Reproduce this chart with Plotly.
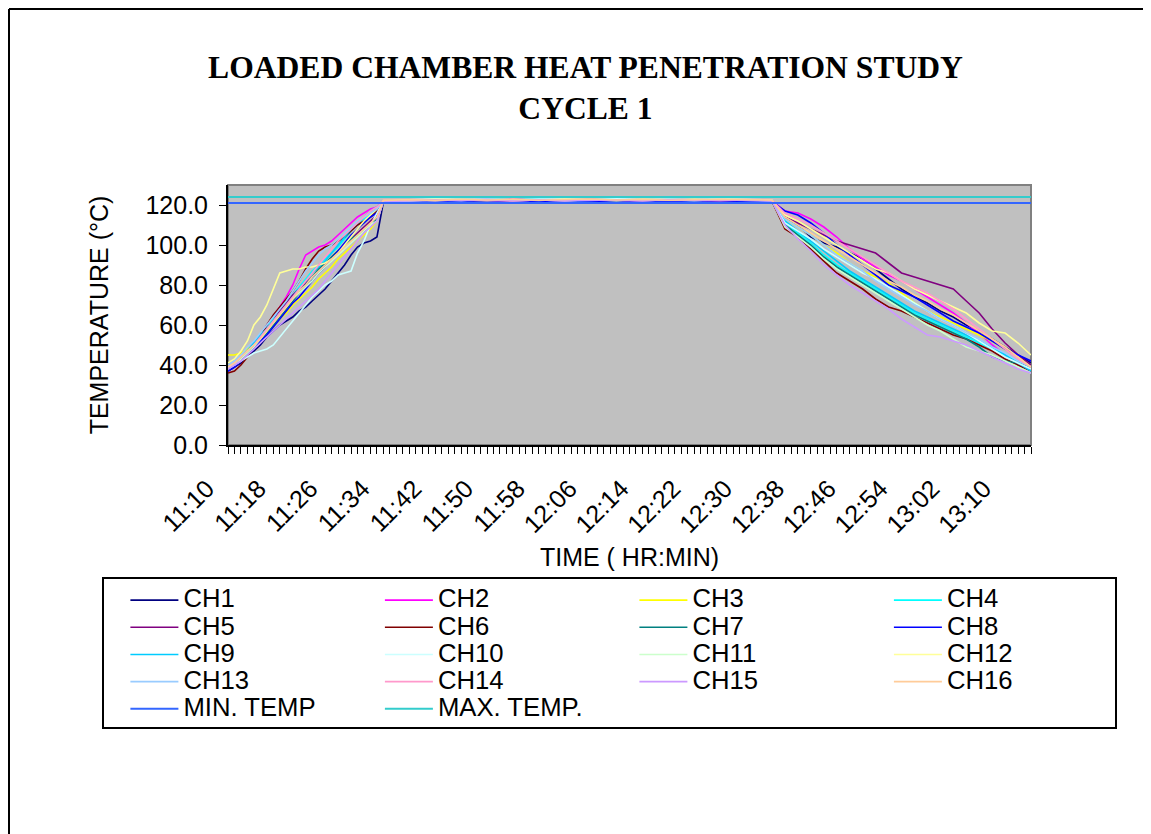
import plotly.graph_objects as go

# ---------------- data ----------------
TIMES = (["11:10", "11:11", "11:12", "11:13", "11:14", "11:15", "11:16", "11:17", "11:18",
          "11:19", "11:20", "11:21", "11:22", "11:23", "11:24", "11:25", "11:26", "11:27",
          "11:28", "11:29", "11:30", "11:31", "11:32", "11:33", "11:34"]
         + ["11:38", "11:42", "11:46", "11:50", "11:54", "11:58", "12:02", "12:06", "12:10",
            "12:14", "12:18", "12:22", "12:26", "12:30"]
         + ["12:34", "12:36", "12:38", "12:40", "12:42", "12:44", "12:46", "12:48", "12:50",
            "12:52", "12:54", "12:56", "12:58", "13:00", "13:02", "13:04", "13:06", "13:08",
            "13:10", "13:12", "13:14"])

CH1 = [37, 39, 41, 44, 47, 50, 54, 57, 60, 62, 64, 67, 69, 72, 75, 78, 82, 86, 90, 95, 99, 101, 102, 104, 121.5,
       121.7, 122.2, 121.9, 122.4, 122.0, 121.8, 122.3, 122.1, 121.9, 122.4, 122.0, 122.2, 121.8, 122.3,
       122, 114, 110, 104, 101, 99, 96, 93, 88, 83, 78, 74, 71, 67, 64, 60, 57, 53, 49, 45, 41]
CH2 = [38, 40, 43, 47, 51, 55, 60, 64, 69, 74, 80, 88, 95, 97, 99, 100, 102, 105, 108, 111, 114, 116, 118, 119, 122.3,
       122.4, 122.0, 122.6, 122.2, 122.8, 122.3, 122.5, 122.1, 122.7, 122.3, 122.5, 122.2, 122.6, 122.4,
       122.2, 117, 116, 113, 109, 104, 98, 93, 89, 85, 82, 78, 74, 70, 66, 61, 56, 50, 45, 41, 38]
CH3 = [45, 45, 46, 48, 50, 53, 56, 59, 63, 66, 70, 73, 76, 79, 83, 86, 89, 93, 96, 99, 102, 105, 108, 112, 122.0,
       122.0, 122.5, 122.2, 122.7, 122.3, 122.1, 122.6, 122.4, 122.0, 122.5, 122.3, 122.7, 122.2, 122.5,
       122.1, 113, 109, 105, 100, 96, 91, 87, 84, 81, 76, 71, 67, 64, 61, 58, 55, 52, 48, 44, 40]
CH4 = [38, 41, 44, 47, 51, 55, 59, 63, 67, 71, 75, 79, 83, 87, 90, 93, 96, 99, 103, 107, 110, 113, 115, 117, 121.8,
       122.3, 122.7, 122.4, 122.9, 122.5, 122.8, 122.3, 122.6, 122.9, 122.4, 122.7, 122.5, 122.8, 122.6,
       122.4, 111, 106, 101, 95, 90, 86, 82, 78, 74, 70, 66, 63, 60, 57, 54, 51, 48, 45, 42, 38]
CH5 = [37, 39, 42, 46, 50, 54, 58, 62, 67, 71, 75, 78, 81, 84, 87, 90, 94, 97, 100, 103, 106, 109, 112, 115, 122.0,
       121.8, 122.1, 121.6, 122.0, 121.7, 122.2, 121.9, 121.6, 122.1, 121.8, 122.0, 121.7, 122.1, 121.9,
       122.0, 114, 111, 108, 105, 102, 100, 98, 96, 91, 86, 84, 82, 80, 78, 72, 66, 58, 51, 45, 40]
CH6 = [36, 37, 40, 44, 49, 54, 60, 65, 69, 73, 77, 82, 88, 93, 97, 99, 100, 102, 104, 107, 110, 112, 114, 117, 122.1,
       121.9, 122.3, 122.0, 121.7, 122.2, 121.9, 122.4, 122.0, 121.8, 122.3, 121.9, 122.2, 122.0, 122.1,
       121.9, 108, 104, 98, 92, 86, 82, 78, 73, 69, 67, 64, 61, 58, 55, 53, 50, 47, 43, 40, 37]
CH7 = [38, 40, 43, 46, 49, 52, 56, 60, 64, 68, 72, 76, 80, 84, 88, 91, 94, 97, 100, 103, 105, 107, 110, 113, 121.6,
       122.1, 121.8, 122.4, 122.0, 122.3, 121.9, 122.2, 122.5, 122.0, 122.3, 121.8, 122.1, 122.4, 122.2,
       122.0, 110, 105, 100, 94, 89, 85, 81, 77, 73, 69, 65, 62, 59, 56, 53, 49, 44, 42, 41, 39]
CH8 = [37, 39, 42, 45, 48, 52, 55, 59, 63, 67, 71, 74, 78, 82, 86, 89, 93, 97, 101, 105, 108, 111, 114, 116, 121.7,
       121.5, 121.9, 121.6, 121.8, 121.4, 121.9, 121.6, 121.8, 121.5, 121.7, 121.9, 121.5, 121.8, 121.6,
       121.8, 117, 115, 111, 106, 100, 95, 90, 85, 80, 77, 74, 70, 66, 62, 59, 56, 52, 48, 45, 42]
CH9 = [39, 41, 44, 47, 51, 55, 58, 62, 66, 70, 74, 78, 82, 86, 89, 92, 96, 100, 104, 108, 111, 114, 117, 119, 122.2,
       122.5, 122.2, 122.8, 122.4, 122.6, 122.9, 122.3, 122.7, 122.4, 122.8, 122.5, 122.3, 122.7, 122.6,
       122.3, 112, 107, 102, 97, 92, 87, 83, 79, 75, 71, 67, 64, 61, 58, 55, 52, 49, 45, 41, 37]
CH10 = [39, 40, 42, 44, 46, 47, 48, 50, 54, 58, 62, 66, 70, 74, 77, 80, 82, 85, 86, 87, 96, 102, 110, 116, 121.9,
        122.6, 123.0, 122.7, 122.9, 122.5, 123.0, 122.8, 122.6, 123.1, 122.7, 122.9, 122.6, 123.0, 122.8,
        122.5, 111, 107, 103, 98, 94, 90, 86, 83, 79, 75, 71, 67, 63, 60, 56, 52, 48, 44, 41, 38]
CH11 = [38, 40, 43, 46, 49, 53, 57, 61, 65, 69, 73, 76, 79, 82, 86, 89, 92, 95, 98, 101, 104, 107, 110, 112, 121.8,
        122.2, 122.5, 122.9, 122.4, 122.7, 122.3, 122.8, 122.5, 122.2, 122.7, 122.4, 122.9, 122.5, 122.6,
        122.2, 109, 104, 99, 93, 88, 84, 80, 76, 72, 68, 64, 60, 57, 53, 49, 47, 45, 42, 39, 36]
CH12 = [41, 43, 47, 52, 60, 64, 70, 78, 86, 87, 88, 88, 89, 89, 90, 91, 93, 96, 100, 104, 108, 112, 115, 118, 122.4,
        122.3, 122.8, 122.5, 122.2, 122.7, 122.4, 122.9, 122.6, 122.3, 122.8, 122.5, 122.4, 122.9, 122.5,
        122.4, 115, 112, 108, 104, 100, 96, 92, 88, 86, 82, 78, 75, 72, 69, 66, 61, 57, 56, 51, 45]
CH13 = [40, 42, 45, 49, 52, 56, 60, 64, 68, 72, 77, 82, 87, 91, 95, 98, 100, 103, 106, 109, 112, 114, 116, 118, 122.0,
        122.0, 122.4, 122.1, 122.6, 122.2, 122.5, 122.0, 122.3, 122.6, 122.1, 122.4, 122.2, 122.5, 122.3,
        122.1, 113, 109, 105, 100, 95, 91, 87, 82, 78, 74, 70, 67, 63, 60, 56, 53, 49, 46, 42, 39]
CH14 = [39, 41, 44, 47, 50, 54, 58, 62, 66, 70, 74, 78, 82, 86, 90, 94, 98, 102, 105, 108, 111, 114, 117, 119, 122.2,
        122.4, 122.1, 122.6, 122.3, 122.0, 122.5, 122.2, 122.7, 122.3, 122.1, 122.6, 122.4, 122.2, 122.5,
        122.3, 116, 113, 110, 106, 102, 98, 94, 90, 86, 82, 79, 76, 72, 68, 63, 58, 53, 48, 43, 39]
CH15 = [38, 40, 42, 45, 48, 51, 54, 57, 60, 63, 66, 69, 72, 75, 78, 82, 86, 90, 94, 98, 102, 106, 109, 112, 121.7,
        122.1, 122.6, 122.3, 122.8, 122.2, 122.5, 122.1, 122.7, 122.4, 122.2, 122.6, 122.3, 122.7, 122.4,
        122.0, 110, 103, 97, 90, 85, 80, 76, 72, 68, 63, 59, 55, 54, 52, 50, 47, 44, 41, 38, 36]
CH16 = [39, 41, 44, 47, 50, 53, 57, 61, 65, 69, 73, 77, 80, 84, 87, 90, 93, 96, 99, 102, 105, 108, 111, 114, 122.3,
        122.6, 122.3, 122.9, 122.5, 122.8, 122.4, 122.7, 123.0, 122.5, 122.8, 122.4, 122.6, 122.9, 122.7,
        122.4, 114, 110, 106, 102, 98, 94, 90, 86, 82, 79, 75, 72, 68, 65, 61, 57, 53, 49, 44, 39]

CHANNELS = [CH1, CH2, CH3, CH4, CH5, CH6, CH7, CH8, CH9, CH10, CH11, CH12, CH13, CH14, CH15, CH16]
CHANNEL_NAMES = ["CH1", "CH2", "CH3", "CH4", "CH5", "CH6", "CH7", "CH8",
                 "CH9", "CH10", "CH11", "CH12", "CH13", "CH14", "CH15", "CH16"]
CHANNEL_COLORS = ["#000080", "#FF00FF", "#FFFF00", "#00FFFF", "#800080", "#800000", "#008080", "#0000FF",
                  "#00CCFF", "#CCFFFF", "#CCFFCC", "#FFFF99", "#99CCFF", "#FF99CC", "#CC99FF", "#FFCC99"]

LIMIT_TIMES = ["11:10", "13:14"]
MIN_TEMP = [121.0, 121.0]
MAX_TEMP = [124.0, 124.0]

X_TICK_LABELS = ["11:10", "11:18", "11:26", "11:34", "11:42", "11:50", "11:58", "12:06",
                 "12:14", "12:22", "12:30", "12:38", "12:46", "12:54", "13:02", "13:10"]
Y_TICKS = [0, 20, 40, 60, 80, 100, 120]


def ts(hm):
    return "2000-01-01 " + hm + ":00"


SANS = "Liberation Sans, Arial, sans-serif"
SERIF = "Liberation Serif, Times New Roman, serif"


def legend_name(s):
    return '<span style="font-size:25.7px">' + s + '</span>'


fig = go.Figure()
x_all = [ts(t) for t in TIMES]
for name, vals, col in zip(CHANNEL_NAMES, CHANNELS, CHANNEL_COLORS):
    fig.add_trace(go.Scatter(x=x_all, y=vals, mode="lines", name=legend_name(name),
                             line=dict(color=col, width=1.6)))
fig.add_trace(go.Scatter(x=[ts(t) for t in LIMIT_TIMES], y=MIN_TEMP, mode="lines",
                         name=legend_name("MIN. TEMP"), line=dict(color="#3366FF", width=2)))
fig.add_trace(go.Scatter(x=[ts(t) for t in LIMIT_TIMES], y=MAX_TEMP, mode="lines",
                         name=legend_name("MAX. TEMP."), line=dict(color="#33CCCC", width=2)))

# page has an 8px body margin: figure coords = page coords - 8
OFF = 8
W, H = 1151 - OFF, 834 - OFF
L = 228 - OFF
T = 185 - OFF
PLOT_R = 1031 - OFF
PLOT_B = 445 - OFF
R = W - PLOT_R
B = H - PLOT_B
PW, PH = W - L - R, H - T - B


def px(xpage):
    return (xpage - OFF - L) / PW


def py(ypage):
    return (PLOT_B - (ypage - OFF)) / PH


fig.update_layout(
    width=W, height=H,
    margin=dict(l=L, r=R, t=T, b=B, autoexpand=False),
    paper_bgcolor="white",
    plot_bgcolor="#C0C0C0",
    font=dict(family=SANS, size=25, color="black"),
    title=dict(text="LOADED CHAMBER HEAT PENETRATION STUDY<br>CYCLE 1",
               font=dict(family=SERIF, size=31.6, color="black", weight="bold"),
               x=(585.5 - OFF) / W, xanchor="center", xref="container",
               y=1 - 70 / H, yanchor="top", yref="container"),
    showlegend=True,
    legend=dict(orientation="h", x=px(125.4), xanchor="left", y=py(581.5), yanchor="top",
                bgcolor="rgba(0,0,0,0)", borderwidth=0,
                font=dict(family=SANS, size=18.6, color="black"),
                itemwidth=48, entrywidth=191.5, entrywidthmode="pixels",
                traceorder="normal"),
    xaxis=dict(type="date", range=[ts("11:10"), ts("13:14")],
               tickmode="array", tickvals=[ts(t) for t in X_TICK_LABELS], ticktext=X_TICK_LABELS,
               tickangle=-45, ticks="outside", ticklen=7, tickwidth=1, tickcolor="black",
               ticklabelstandoff=10, ticklabelshift=-21,
               minor=dict(dtick=60000, tick0=ts("11:10"), ticks="outside", ticklen=7,
                          tickwidth=1, tickcolor="black", showgrid=False),
               showgrid=False, zeroline=False, showline=True, linecolor="black", linewidth=2,
               tickfont=dict(size=25),
               title=dict(text="TIME ( HR:MIN)", font=dict(size=25), standoff=11),
               automargin=False),
    yaxis=dict(range=[0, 130], tickmode="array", tickvals=Y_TICKS, tickformat=".1f",
               ticks="outside", ticklen=7, tickwidth=1, tickcolor="black",
               ticklabelstandoff=6,
               showgrid=False, zeroline=False, showline=True, linecolor="black", linewidth=2,
               tickfont=dict(size=25),
               title=dict(text="TEMPERATURE (°C)", font=dict(size=25), standoff=30),
               automargin=False),
    shapes=[
        # plot-area border (gray)
        dict(type="rect", xref="paper", yref="paper", x0=0, x1=1, y0=0, y1=1,
             line=dict(color="#808080", width=2), layer="below"),
        # legend box
        dict(type="rect", xref="paper", yref="paper", x0=px(103), x1=px(1116),
             y0=py(728), y1=py(578), line=dict(color="black", width=2)),
        # chart-area border (left and top edges only are inside the picture)
        dict(type="line", xref="paper", yref="paper", x0=px(9), x1=px(1400),
             y0=py(9), y1=py(9), line=dict(color="black", width=2)),
        dict(type="line", xref="paper", yref="paper", x0=px(9), x1=px(9),
             y0=py(9), y1=py(1100), line=dict(color="black", width=2)),
    ],
)

fig.write_html("out.html")
